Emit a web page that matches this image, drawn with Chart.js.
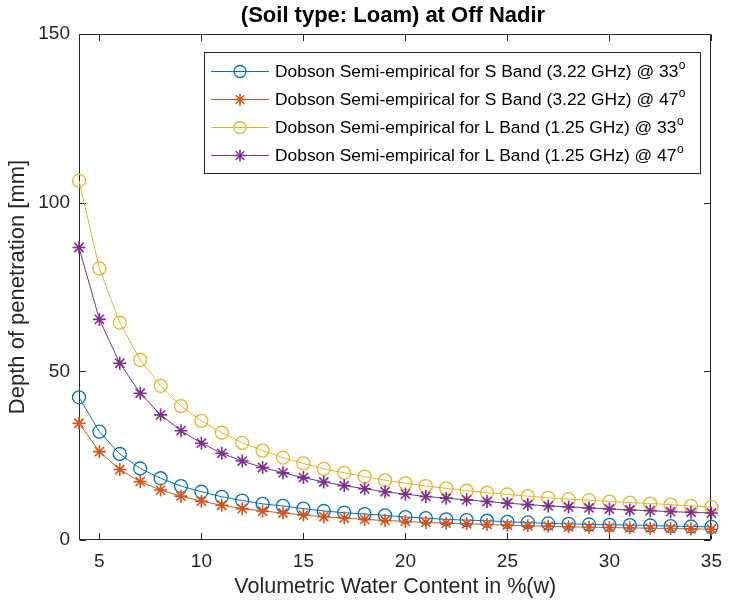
<!DOCTYPE html>
<html>
<head>
<meta charset="utf-8">
<title>Depth of penetration - Loam</title>
<script src="https://cdn.jsdelivr.net/npm/chart.js@4.4.1/dist/chart.umd.min.js"></script>
<style>
  body { margin: 0; background: #fff; }
  #wrap { width: 732px; height: 600px; }
</style>
</head>
<body>
<div id="wrap"><canvas id="myChart" width="732" height="600"></canvas></div>
<script>
// volumetric water content, %(w)
const waterContent = [4, 5, 6, 7, 8, 9, 10, 11, 12, 13, 14, 15, 16, 17, 18, 19,
  20, 21, 22, 23, 24, 25, 26, 27, 28, 29, 30, 31, 32, 33, 34, 35];

// depth of penetration [mm]
const sBand33 = [42.3, 32.1, 25.5, 21.2, 18.3, 16.0, 14.3, 12.8, 11.7, 10.7, 10.1, 9.3,
  8.6, 8.1, 7.7, 7.3, 6.8, 6.5, 6.1, 5.9, 5.7, 5.4, 5.2, 4.9, 4.8, 4.6, 4.5, 4.4, 4.3, 4.1, 4.0, 3.9];
const sBand47 = [34.6, 26.2, 20.9, 17.3, 14.8, 13.0, 11.5, 10.3, 9.3, 8.6, 8.0, 7.4,
  6.9, 6.5, 6.1, 5.8, 5.5, 5.2, 5.0, 4.8, 4.6, 4.4, 4.2, 4.1, 3.9, 3.8, 3.7, 3.6, 3.5, 3.4, 3.3, 3.2];
const lBand33 = [106.5, 80.5, 64.4, 53.4, 45.7, 39.7, 35.3, 31.8, 28.8, 26.5, 24.4, 22.7,
  21.1, 19.9, 18.8, 17.7, 16.8, 16.0, 15.3, 14.6, 14.0, 13.5, 13.0, 12.5, 12.1, 11.8, 11.4, 11.1, 10.8, 10.5, 10.1, 9.8];
const lBand47 = [86.7, 65.4, 52.4, 43.5, 37.1, 32.4, 28.7, 25.7, 23.4, 21.5, 19.9, 18.5,
  17.2, 16.1, 15.2, 14.3, 13.6, 12.9, 12.4, 11.9, 11.4, 10.9, 10.5, 10.1, 9.8, 9.5, 9.2, 8.9, 8.7, 8.4, 8.2, 8.0];

const seriesLabels = [
  'Dobson Semi-empirical for S Band (3.22 GHz) @ 33',
  'Dobson Semi-empirical for S Band (3.22 GHz) @ 47',
  'Dobson Semi-empirical for L Band (1.25 GHz) @ 33',
  'Dobson Semi-empirical for L Band (1.25 GHz) @ 47',
];
const degreeMark = 'o';

const xTicks = [5, 10, 15, 20, 25, 30, 35];
const yTicks = [0, 50, 100, 150];

const chartTitle = '(Soil type: Loam) at Off Nadir';
const xTitle = 'Volumetric Water Content in %(w)';
const yTitle = 'Depth of penetration [mm]';

const FONT = '"Liberation Sans", Arial, Helvetica, sans-serif';
const AXIS_COLOR = '#262626';
const colors = ['#0072BD', '#D95319', '#EDB120', '#7E2F8E'];
const markers = ['circle', 'star', 'circle', 'star'];
const allSeries = [sBand33, sBand47, lBand33, lBand47];

const datasets = allSeries.map((values, i) => ({
  label: seriesLabels[i],
  data: waterContent.map((x, j) => ({ x: x, y: values[j] })),
  borderColor: colors[i],
  backgroundColor: 'rgba(0,0,0,0)',
  borderWidth: 1,
  pointStyle: markers[i],
  pointRadius: 6.5,
  pointBorderWidth: markers[i] === 'circle' ? 1.3 : 1.6,
  pointBorderColor: colors[i],
  pointBackgroundColor: 'rgba(0,0,0,0)',
  tension: 0,
  clip: false,
  order: allSeries.length - i, // later series on top, like matlab
}));

// axes box, inward ticks, title and boxed legend
const matlabLook = {
  id: 'matlabLook',
  beforeDatasetsDraw(chart) {
    const { ctx, chartArea: a, scales } = chart;
    const L = Math.round(a.left) + 0.5, R = Math.round(a.right) - 0.5;
    const T = Math.round(a.top) + 0.5, B = Math.round(a.bottom) - 0.5;
    const tick = 6.5;
    ctx.save();
    ctx.strokeStyle = AXIS_COLOR;
    ctx.lineWidth = 1;
    ctx.beginPath();
    ctx.rect(L, T, R - L, B - T);
    xTicks.forEach((v) => {
      const px = Math.round(scales.x.getPixelForValue(v)) + 0.5;
      ctx.moveTo(px, B); ctx.lineTo(px, B - tick);
      ctx.moveTo(px, T); ctx.lineTo(px, T + tick);
    });
    yTicks.forEach((v) => {
      const py = Math.round(scales.y.getPixelForValue(v)) + 0.5;
      ctx.moveTo(L, py); ctx.lineTo(L + tick, py);
      ctx.moveTo(R, py); ctx.lineTo(R - tick, py);
    });
    ctx.stroke();
    ctx.restore();
  },
  afterDraw(chart) {
    const { ctx } = chart;
    ctx.save();
    // title
    ctx.fillStyle = '#000';
    ctx.font = 'bold 22px ' + FONT;
    ctx.textAlign = 'center';
    ctx.textBaseline = 'middle';
    ctx.fillText(chartTitle, 393, 16);

    // legend
    const box = { x: 204.5, y: 52.5, w: 496, h: 121 };
    ctx.fillStyle = '#fff';
    ctx.fillRect(box.x, box.y, box.w, box.h);
    ctx.strokeStyle = AXIS_COLOR;
    ctx.lineWidth = 1;
    ctx.strokeRect(box.x, box.y, box.w, box.h);
    const rows = [71.5, 99.5, 127.5, 155.5];
    chart.data.datasets.forEach((ds, i) => {
      const y = rows[i];
      ctx.strokeStyle = ds.borderColor;
      ctx.lineWidth = 1;
      ctx.beginPath();
      ctx.moveTo(211, y); ctx.lineTo(269, y);
      ctx.stroke();
      ctx.fillStyle = 'rgba(0,0,0,0)';
      ctx.lineWidth = ds.pointBorderWidth;
      Chart.helpers.drawPoint(ctx, {
        pointStyle: ds.pointStyle, radius: 6, rotation: 0,
        borderWidth: ds.pointBorderWidth,
      }, 240, y);
      ctx.fillStyle = '#000';
      ctx.font = '17.4px ' + FONT;
      ctx.textAlign = 'left';
      ctx.textBaseline = 'middle';
      ctx.fillText(ds.label, 275, y + 1);
      const w = ctx.measureText(ds.label).width;
      ctx.font = '12px ' + FONT;
      ctx.fillText(degreeMark, 275 + w + 0.5, y - 6);
    });
    ctx.restore();
  },
};

new Chart(document.getElementById('myChart'), {
  type: 'line',
  data: { datasets: datasets },
  options: {
    responsive: false,
    animation: false,
    devicePixelRatio: 1,
    layout: { padding: { top: 34, right: 13, left: 0, bottom: 0 } },
    plugins: {
      legend: { display: false },
      title: { display: false },
      tooltip: { enabled: false },
    },
    scales: {
      x: {
        type: 'linear',
        min: 4,
        max: 35,
        afterFit(scale) { scale.height = 60; },
        afterBuildTicks(scale) { scale.ticks = xTicks.map((v) => ({ value: v })); },
        grid: { display: false, drawTicks: false },
        border: { display: false },
        ticks: { color: AXIS_COLOR, font: { family: FONT, size: 19 }, padding: 10, maxRotation: 0 },
        title: {
          display: true, text: xTitle, color: AXIS_COLOR,
          font: { family: FONT, size: 21.5 }, padding: { top: 0, bottom: 0 },
        },
      },
      y: {
        type: 'linear',
        min: 0,
        max: 150,
        afterFit(scale) { scale.width = 79; },
        afterBuildTicks(scale) { scale.ticks = yTicks.map((v) => ({ value: v })); },
        grid: { display: false, drawTicks: false },
        border: { display: false },
        ticks: { color: AXIS_COLOR, font: { family: FONT, size: 19 }, padding: 9 },
        title: {
          display: true, text: yTitle, color: AXIS_COLOR,
          font: { family: FONT, size: 22 }, padding: { top: 5, bottom: 0 },
        },
      },
    },
  },
  plugins: [matlabLook],
});
</script>
</body>
</html>
